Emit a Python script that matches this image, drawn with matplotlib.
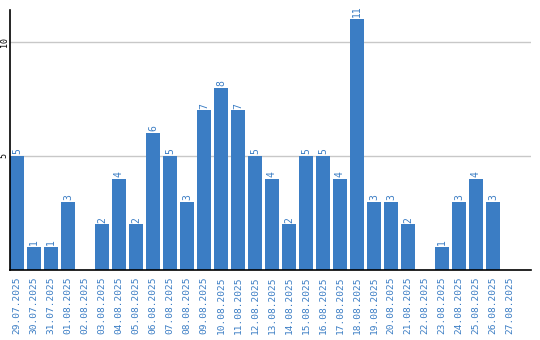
import matplotlib
matplotlib.use('Agg')
import matplotlib.pyplot as plt
import numpy as np

# Daily counts, 29.07.2025 - 27.08.2025
dates = ['29.07.2025', '30.07.2025', '31.07.2025', '01.08.2025', '02.08.2025',
         '03.08.2025', '04.08.2025', '05.08.2025', '06.08.2025', '07.08.2025',
         '08.08.2025', '09.08.2025', '10.08.2025', '11.08.2025', '12.08.2025',
         '13.08.2025', '14.08.2025', '15.08.2025', '16.08.2025', '17.08.2025',
         '18.08.2025', '19.08.2025', '20.08.2025', '21.08.2025', '22.08.2025',
         '23.08.2025', '24.08.2025', '25.08.2025', '26.08.2025', '27.08.2025']
counts = [5, 1, 1, 3, 0, 2, 4, 2, 6, 5, 3, 7, 8, 7, 5, 4, 2, 5, 5, 4,
          11, 3, 3, 2, 0, 1, 3, 4, 3, 0]
y_ticks = [5, 10]

bar_color = '#3b7dc4'
font = 'DejaVu Sans Mono'

fig = plt.figure(figsize=(5.4, 3.4), dpi=100)
ax = fig.add_axes([10 / 540, 70 / 340, 521 / 540, 260 / 340])

x = np.arange(len(dates))
ax.bar(x, counts, width=0.82, color=bar_color, zorder=2)

for xi, v in zip(x, counts):
    if v > 0:
        ax.text(xi, v + 0.08, str(v), rotation=90, ha='center', va='bottom',
                color=bar_color, fontsize=7, family=font)

ax.set_xlim(-0.41, 30.24)
ax.set_ylim(0, 11.4)

ax.set_xticks(x)
ax.set_xticklabels(dates, rotation=90, color=bar_color, fontsize=6.8, family=font)
ax.tick_params(axis='x', length=0, pad=5)

ax.set_yticks(y_ticks)
ax.set_yticklabels([str(t) for t in y_ticks], rotation=90, va='center',
                   fontsize=6, family=font)
ax.tick_params(axis='y', length=0, pad=1)

ax.yaxis.grid(True, color='#c8c8c8', linewidth=1, zorder=0)
ax.set_axisbelow(True)

for side in ['top', 'right']:
    ax.spines[side].set_visible(False)
ax.spines['left'].set_linewidth(1.2)
ax.spines['bottom'].set_linewidth(1.2)

fig.savefig('out.png', dpi=100)
